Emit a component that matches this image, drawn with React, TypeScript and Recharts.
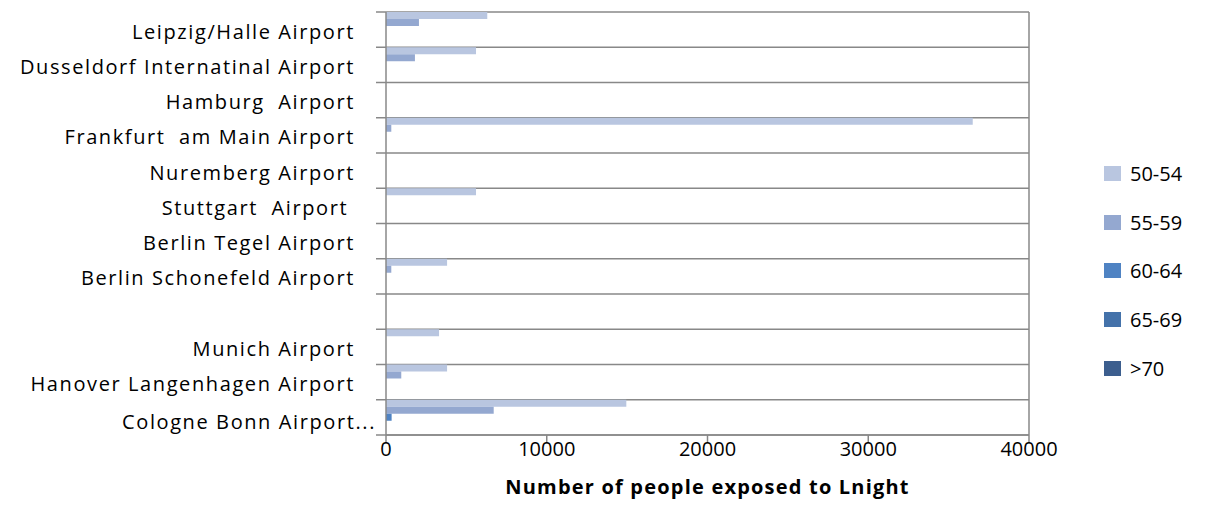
import React from 'react';
import { BarChart, Bar, XAxis, YAxis, CartesianGrid, Legend } from 'recharts';

const airports = [
  'Leipzig/Halle Airport',
  'Dusseldorf Internatinal Airport',
  'Hamburg  Airport',
  'Frankfurt  am Main Airport',
  'Nuremberg Airport',
  'Stuttgart  Airport ',
  'Berlin Tegel Airport',
  'Berlin Schonefeld Airport',
  '',
  'Munich Airport',
  'Hanover Langenhagen Airport',
  'Cologne Bonn Airport...',
];

const s50_54 = [6300, 5600, 0, 36500, 0, 5600, 0, 3800, 0, 3300, 3800, 14950];
const s55_59 = [2050, 1800, 0, 330, 0, 0, 0, 330, 0, 0, 950, 6700];
const s60_64 = [0, 0, 0, 0, 0, 0, 0, 0, 0, 0, 0, 350];
const s65_69 = [0, 0, 0, 0, 0, 0, 0, 0, 0, 0, 0, 0];
const s70 = [0, 0, 0, 0, 0, 0, 0, 0, 0, 0, 0, 0];

const xTicks = [0, 10000, 20000, 30000, 40000];

const seriesNames = ['50-54', '55-59', '60-64', '65-69', '>70'];
const seriesKeys = ['a', 'b', 'c', 'd', 'e'];
const seriesColors = ['#B9C6E0', '#94A8D0', '#4F83C3', '#4472AA', '#3C5E8E'];

const data = airports.map((name, i) => ({
  name,
  a: s50_54[i],
  b: s55_59[i],
  c: s60_64[i],
  d: s65_69[i],
  e: s70[i],
}));

const FONT = '"Open Sans", Lato, sans-serif';
const GRID = '#888888';

const CHART_H = 522;
const TOP = 4;
const BOTTOM_AXIS_H = 95;
const PLOT_H = CHART_H - TOP - BOTTOM_AXIS_H;
const BAND = PLOT_H / airports.length;
const AXIS_X = 378;

const CategoryTick = (props: any) => {
  const { x, y, payload, index } = props;
  const top = y - BAND / 2;
  const isLast = index === airports.length - 1;
  return (
    <g>
      <line x1={AXIS_X - 10} x2={AXIS_X} y1={top} y2={top} stroke={GRID} strokeWidth={1.5} />
      {isLast && (
        <line x1={AXIS_X - 10} x2={AXIS_X} y1={top + BAND} y2={top + BAND} stroke={GRID} strokeWidth={1.5} />
      )}
      <text
        x={isLast ? x + 21 : x}
        y={y}
        dy={isLast ? 12 : 9}
        textAnchor="end"
        fill="#000"
        fontSize={20}
        fontFamily={FONT}
        letterSpacing={1.6}
        style={{ whiteSpace: 'pre' }}
      >
        {payload.value}
      </text>
    </g>
  );
};

const LegendContent = () => (
  <div style={{ fontFamily: FONT, fontSize: 20, color: '#000' }}>
    {seriesNames.map((n, i) => (
      <div key={n} style={{ display: 'flex', alignItems: 'center', height: 48.7 }}>
        <span
          style={{
            display: 'inline-block',
            width: 17,
            height: 15,
            background: seriesColors[i],
            marginRight: 9,
          }}
        />
        <span>{n}</span>
      </div>
    ))}
  </div>
);

export default function App() {
  return (
    <BarChart
      width={1215}
      height={CHART_H}
      data={data}
      layout="vertical"
      margin={{ top: TOP, right: 84, bottom: 0, left: 0 }}
      barCategoryGap={0}
      barGap={0}
    >
      <CartesianGrid
        stroke={GRID}
        strokeWidth={1.5}
        horizontalCoordinatesGenerator={({ offset }: any) =>
          airports.map((_, i) => offset.top + (i * offset.height) / airports.length).concat([offset.top + offset.height])
        }
        verticalCoordinatesGenerator={({ offset }: any) => [offset.left + offset.width]}
      />
      <XAxis
        type="number"
        domain={[0, 40000]}
        ticks={xTicks}
        interval={0}
        height={BOTTOM_AXIS_H}
        stroke={GRID}
        strokeWidth={1.5}
        tickSize={7}
        tickMargin={0}
        tick={{ fill: '#000', fontSize: 20, fontFamily: FONT }}
        label={{
          value: 'Number of people exposed to Lnight',
          position: 'insideTop',
          offset: 45,
          fill: '#000',
          fontSize: 20,
          fontWeight: 'bold',
          fontFamily: FONT,
          letterSpacing: 1.2,
        }}
      />
      <YAxis
        type="category"
        dataKey="name"
        width={AXIS_X}
        interval={0}
        tickLine={false}
        tickSize={10}
        tickMargin={21}
        stroke={GRID}
        strokeWidth={1.5}
        tick={<CategoryTick />}
      />
      <Legend
        layout="horizontal"
        verticalAlign="middle"
        align="right"
        content={<LegendContent />}
        wrapperStyle={{ left: 1096, top: 141, width: 110 }}
      />
      {seriesKeys.map((k, i) => (
        <Bar key={k} dataKey={k} name={seriesNames[i]} fill={seriesColors[i]} isAnimationActive={false} />
      ))}
    </BarChart>
  );
}
